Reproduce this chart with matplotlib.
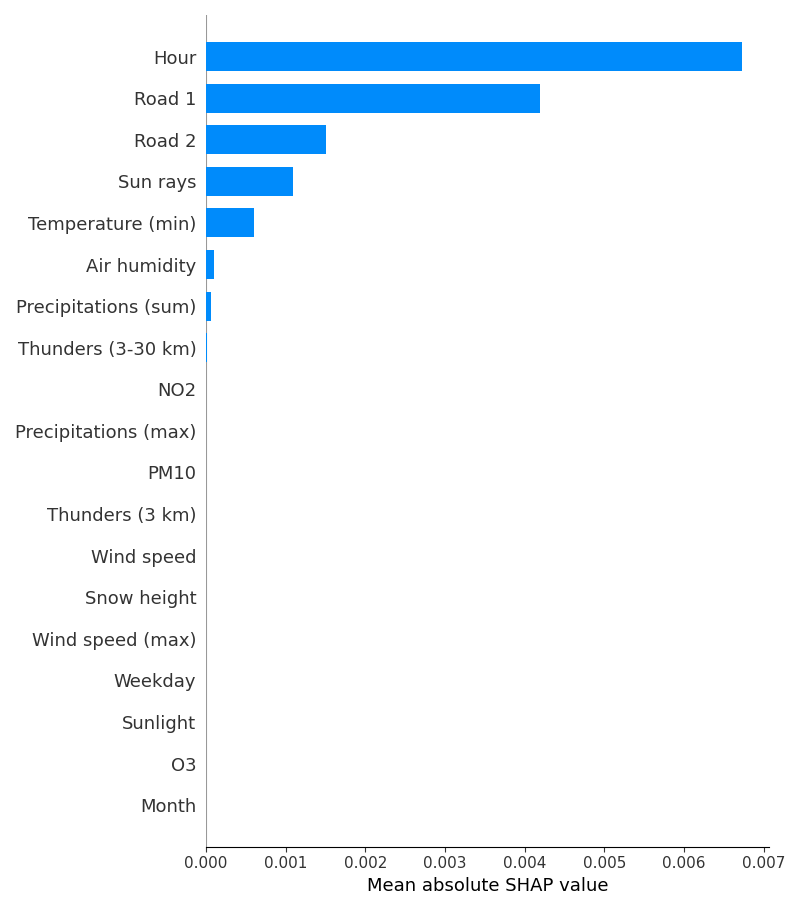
import numpy as np
import matplotlib
matplotlib.use('Agg')
import matplotlib.pyplot as plt

# features, from most to least important
features = ['Hour', 'Road 1', 'Road 2', 'Sun rays', 'Temperature (min)', 'Air humidity',
            'Precipitations (sum)', 'Thunders (3-30 km)', 'NO2', 'Precipitations (max)',
            'PM10', 'Thunders (3 km)', 'Wind speed', 'Snow height', 'Wind speed (max)',
            'Weekday', 'Sunlight', 'O3', 'Month']
mean_shap = [0.006726, 0.00419, 0.00150, 0.00109, 0.00060, 0.00010,
             0.00006, 0.00001, 0.0, 0.0,
             0.0, 0.0, 0.0, 0.0, 0.0,
             0.0, 0.0, 0.0, 0.0]

axis_color = '#333333'
n = len(features)
y_pos = np.arange(n)[::-1]

fig = plt.figure(figsize=(8, 9.1), dpi=100)
ax = plt.gca()
ax.axvline(x=0, color='#999999', zorder=-1)
ax.barh(y_pos, mean_shap, 0.7, align='center', color='#008bfb')

ax.xaxis.set_ticks_position('bottom')
ax.yaxis.set_ticks_position('none')
ax.spines['right'].set_visible(False)
ax.spines['top'].set_visible(False)
ax.spines['left'].set_visible(False)
ax.tick_params(color=axis_color, labelcolor=axis_color)
ax.set_yticks(y_pos)
ax.set_yticklabels(features, fontsize=13)
ax.tick_params('x', labelsize=11)
ax.set_ylim(-1, n)
ax.set_xlabel('Mean absolute SHAP value', fontsize=13)

plt.tight_layout()
plt.savefig('out.png')
